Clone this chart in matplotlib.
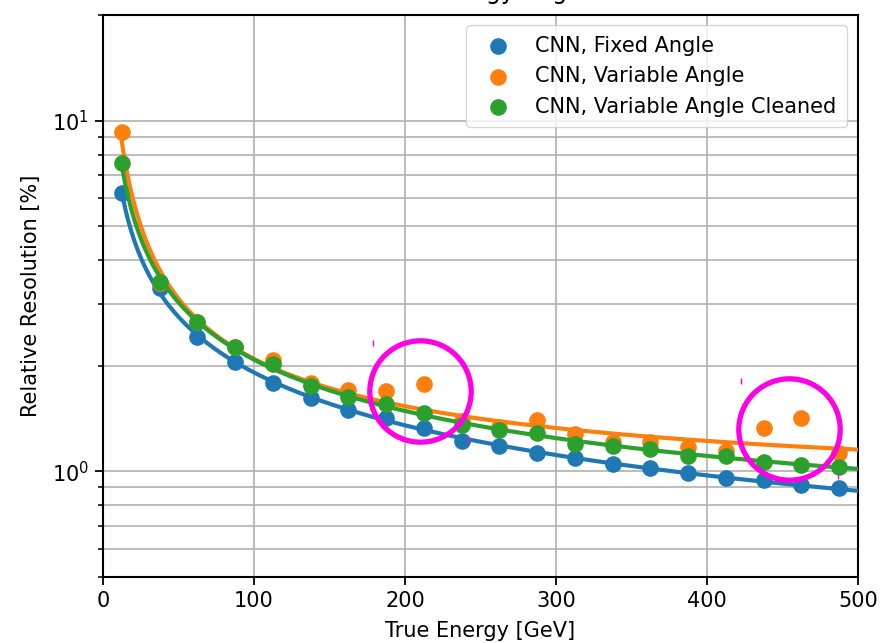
import numpy as np
import matplotlib.pyplot as plt
from matplotlib.ticker import NullFormatter

# bin centres [GeV]
energy = np.arange(12.5, 500, 25.0)

res_fixed = [6.2, 3.33, 2.42, 2.05, 1.79, 1.62, 1.50, 1.42, 1.33, 1.22,
             1.185, 1.13, 1.09, 1.047, 1.02, 0.987, 0.96, 0.943, 0.913, 0.895]
res_variable = [9.25, 3.45, 2.66, 2.26, 2.08, 1.79, 1.71, 1.69, 1.78, 1.39,
                1.34, 1.405, 1.28, 1.21, 1.21, 1.17, 1.147, 1.33, 1.42, 1.125]
res_cleaned = [7.55, 3.46, 2.67, 2.26, 2.02, 1.75, 1.63, 1.56, 1.47, 1.36,
               1.316, 1.29, 1.20, 1.18, 1.155, 1.11, 1.11, 1.067, 1.04, 1.027]

labels = ["CNN, Fixed Angle", "CNN, Variable Angle", "CNN, Variable Angle Cleaned"]
colors = ["#1f77b4", "#ff7f0e", "#2ca02c"]

# highlighted regions (outliers)
highlight_x = [210, 454]
highlight_y = [1.69, 1.32]
marks_x = [178.8, 422.5, 241.7, 486.8]
marks_y = [2.33, 1.81, 1.233, 0.968]


def fit_resolution(e, r):
    # sigma^2 = a/E + b/E^2 + c, weighted least squares
    e = np.asarray(e)
    r = np.asarray(r)
    A = np.vstack([1 / e, 1 / e**2, np.ones_like(e)]).T
    w = 1 / r**2
    coef, *_ = np.linalg.lstsq(A * w[:, None], r**2 * w, rcond=None)
    return coef


def eval_resolution(coef, e):
    val = coef[0] / e + coef[1] / e**2 + coef[2]
    return np.sqrt(np.clip(val, 1e-6, None))


fig = plt.figure(figsize=(8.93, 6.43), dpi=100)
ax = fig.add_axes([0.1153, 0.1026, 0.8455, 0.8741])

e_fine = np.linspace(12.5, 500, 400)
for res, lab, c in zip([res_fixed, res_variable, res_cleaned], labels, colors):
    ax.scatter(energy, res, s=120, color=c, label=lab, zorder=3)
    coef = fit_resolution(energy, res)
    ax.plot(e_fine, eval_resolution(coef, e_fine), color=c, lw=3, zorder=3)

ax.plot(highlight_x, highlight_y, 'o', ms=73, mfc='none', mec='#ff00e6',
        mew=3.8, zorder=4)
ax.plot(marks_x, marks_y, '|', ms=5, mec='#ff00e6', mew=1, zorder=4)

ax.set_yscale('log')
ax.set_xlim(0, 500)
ax.set_ylim(0.5, 20)
ax.yaxis.set_minor_formatter(NullFormatter())

ax.grid(True, which='major', axis='both', color='#b0b0b0', lw=1.2)
ax.grid(True, which='minor', axis='y', color='#b0b0b0', lw=1.2)
ax.set_axisbelow(True)

ax.tick_params(which='major', labelsize=15, length=6, width=1.3, pad=4)
ax.tick_params(which='minor', length=3.5, width=1.1)
for s in ax.spines.values():
    s.set_linewidth(1.5)

ax.set_xlabel("True Energy [GeV]", fontsize=15, labelpad=7)
ax.set_ylabel("Relative Resolution [%]", fontsize=15, labelpad=8)

ax.legend(loc='upper right', fontsize=15, scatterpoints=1, borderpad=0.5,
          handletextpad=0.8, bbox_to_anchor=(0.999, 1.0))

# title is cut off at the top of the image
fig.text(432 / 893, 1 + 0.5 / 643, "Energy Regression", fontsize=17,
         ha='left', va='baseline')

fig.savefig("out.png", dpi=100)
